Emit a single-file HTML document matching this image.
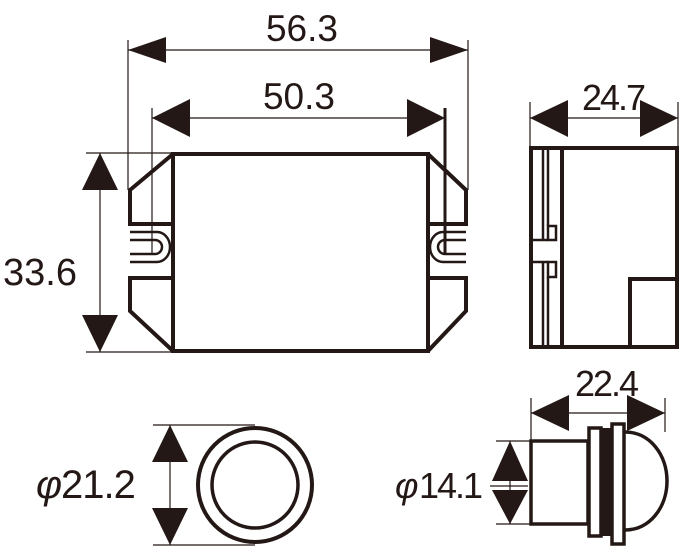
<!DOCTYPE html>
<html><head><style>
html,body{margin:0;padding:0;background:#fff;}
svg{display:block;}
text{font-family:"Liberation Sans","DejaVu Sans",sans-serif;fill:#231815;}
</style></head><body>
<svg width="686" height="556" viewBox="0 0 686 556" xmlns="http://www.w3.org/2000/svg">
<g stroke="#231815" fill="none">
<g stroke-width="1.2">
<line x1="128" y1="40" x2="128" y2="190"/>
<line x1="468" y1="40" x2="468" y2="190"/>
<line x1="128" y1="50" x2="468" y2="50"/>
<line x1="152" y1="108" x2="152" y2="253"/>
<line x1="152" y1="118" x2="445" y2="118"/>
<line x1="86" y1="153" x2="172" y2="153"/>
<line x1="86" y1="352" x2="172" y2="352"/>
<line x1="100" y1="153" x2="100" y2="352"/>
</g>
<line x1="445" y1="108" x2="445" y2="253" stroke-width="3"/>
<g stroke-width="4" stroke-linejoin="miter">
<rect x="173" y="154" width="255" height="197"/>
<polyline points="173,154 130,190 130,224 173,224"/>
<polyline points="173,278 130,278 130,311 173,351"/>
<polyline points="428,154 466,190 466,224 428,224"/>
<polyline points="428,278 466,278 466,311 428,351"/>
</g>
<g stroke-width="2.5">
<path d="M130,232 H157 a13,15 0 0 1 0,30 H130"/>
<path d="M130,240 H155 a7,7 0 0 1 0,14 H130"/>
<path d="M466,232 H443 a13,15 0 0 0 0,30 H466"/>
<path d="M466,240 H445 a7,7 0 0 0 0,14 H466"/>
</g>
<g stroke-width="1.2">
<line x1="530" y1="102" x2="530" y2="147"/>
<line x1="678" y1="102" x2="678" y2="147"/>
<line x1="530" y1="118" x2="678" y2="118"/>
</g>
<g stroke-width="4">
<rect x="531" y="148" width="146" height="199"/>
<line x1="562" y1="148" x2="562" y2="347"/>
<polyline points="630,347 630,279 677,279"/>
</g>
<g stroke-width="2.5">
<line x1="543" y1="148" x2="543" y2="240"/>
<line x1="543" y1="262" x2="543" y2="347"/>
<line x1="548" y1="148" x2="548" y2="226"/>
<line x1="548" y1="277" x2="548" y2="347"/>
<rect x="548" y="226" width="8" height="14"/>
<rect x="548" y="262" width="8" height="15"/>
<line x1="531" y1="240" x2="548" y2="240"/>
<line x1="531" y1="262" x2="548" y2="262"/>
</g>
<g stroke-width="1.2">
<line x1="153" y1="425" x2="255" y2="425"/>
<line x1="153" y1="545" x2="255" y2="545"/>
<line x1="170" y1="425" x2="170" y2="545"/>
</g>
<circle cx="255" cy="485" r="57" stroke-width="4"/>
<circle cx="255" cy="485" r="43" stroke-width="3.5"/>
<g stroke-width="1.2">
<line x1="531" y1="398" x2="531" y2="440"/>
<line x1="665" y1="398" x2="665" y2="432"/>
<line x1="531" y1="413" x2="665" y2="413"/>
<line x1="496" y1="441" x2="530" y2="441"/>
<line x1="496" y1="524" x2="530" y2="524"/>
<line x1="490" y1="486" x2="528" y2="486"/>
<line x1="510" y1="441" x2="510" y2="524"/>
</g>
<g stroke-width="3.5">
<rect x="531" y="441" width="57" height="83"/>
<rect x="589" y="428" width="12" height="108"/>
<rect x="612" y="424" width="12" height="120"/>
<path d="M625,432 C650,432 667,455 667,481 C667,507 650,530 625,530"/>
</g>
<rect x="601" y="428" width="11" height="108" fill="#231815" stroke="none"/>
</g>
<g fill="#231815">
<polygon points="128,50 166,37 166,63"/><polygon points="468,50 430,37 430,63"/>
<polygon points="152,118 190,99 190,137"/><polygon points="445,118 407,99 407,137"/>
<polygon points="100,153 82,190 118,190"/><polygon points="100,352 82,315 118,315"/>
<polygon points="530,118 568,100 568,137"/><polygon points="678,118 640,100 640,137"/>
<polygon points="170,425 152,462 188,462"/><polygon points="170,545 152,508 188,508"/>
<polygon points="531,413 569,395 569,431"/><polygon points="665,413 627,395 627,431"/>
<polygon points="510,441 492,481 528,481"/><polygon points="510,524 492,490 528,490"/>
</g>
<text x="302" y="41" font-size="37" text-anchor="middle">56.3</text>
<text x="299" y="109" font-size="37" text-anchor="middle">50.3</text>
<text x="40" y="285" font-size="38" text-anchor="middle">33.6</text>
<text x="613" y="110" font-size="36" text-anchor="middle" letter-spacing="-2">24.7</text>
<text x="36" y="498" font-size="40" font-style="italic">φ</text><text x="61" y="498" font-size="40" letter-spacing="-1">21.2</text>
<text x="606" y="396" font-size="36" text-anchor="middle" letter-spacing="-2">22.4</text>
<text x="395" y="498" font-size="36" font-style="italic">φ</text><text x="419" y="498" font-size="36" letter-spacing="-2">14.1</text>
</svg>
</body></html>
